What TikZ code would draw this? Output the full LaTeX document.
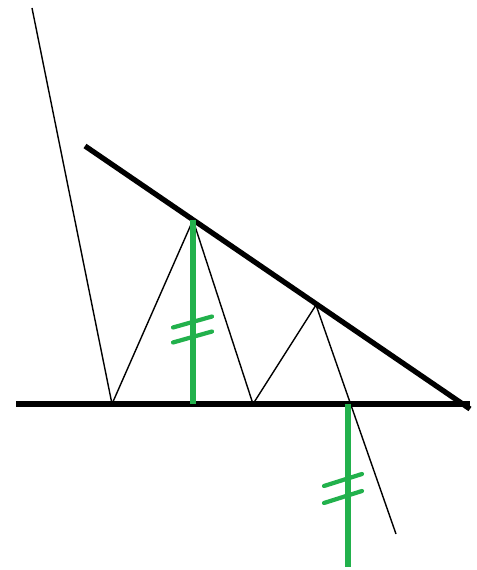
\documentclass[tikz,border=0pt]{standalone}
\usepackage{xcolor}
\usepackage{tikz}
\usetikzlibrary{calc}
\definecolor{paintGreen}{HTML}{22B14C}

\begin{document}
\begin{tikzpicture}[
    heavy/.style={line width=3pt, black},
    ray/.style={line width=0.8pt, black},
    height/.style={line width=3.4pt, paintGreen},
    tick/.style={line width=2.4pt, paintGreen, line cap=round}
  ]
    \useasboundingbox (0,0) rectangle (9.54,11.4);
    % ground line and slanted mirror
    \coordinate (baseL) at (0.32,3.32);
    \coordinate (baseR) at (9.40,3.32);
    \coordinate (topL) at (1.70,8.48);
    \coordinate (apex) at (9.40,3.22);
    \draw[heavy] (baseL) -- (baseR);
    \draw[heavy] (topL) -- (apex);
    % the ray bouncing between the two lines
    \coordinate (r0) at (0.64,11.24);
    \coordinate (r1) at (2.24,3.32);
    \coordinate (r2) at (3.86,7.00);
    \coordinate (r3) at (5.06,3.32);
    \coordinate (r4) at (6.32,5.30);
    \coordinate (r5) at (7.92,0.72);
    \draw[ray] (r0) -- (r1) -- (r2) -- (r3) -- (r4) -- (r5);
    % equal heights
    \coordinate (h1top) at (3.86,7.00);
    \coordinate (h1foot) at (3.86,3.32);
    \coordinate (h2top) at (6.96,3.32);
    \coordinate (h2foot) at (6.96,0.06);
    \draw[height] (h1top) -- (h1foot);
    \draw[height] (h2top) -- (h2foot);
    \foreach \y in {4.96,4.66}
        \draw[tick] (3.46,\y-0.11) -- (4.24,\y+0.11);
    \foreach \y in {1.80,1.46}
        \draw[tick] (6.48,\y-0.12) -- (7.24,\y+0.12);
\end{tikzpicture}
\end{document}
